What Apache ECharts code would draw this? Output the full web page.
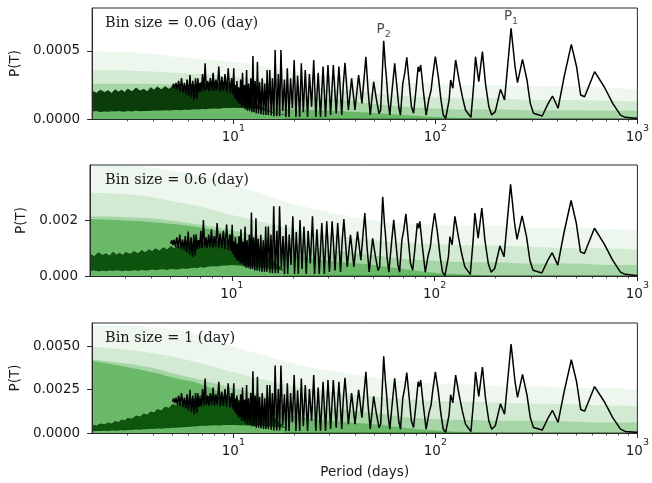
<!DOCTYPE html>
<html><head><meta charset="utf-8">
<script src="https://cdn.jsdelivr.net/npm/echarts@6/dist/echarts.min.js"></script>
<style>html,body{margin:0;padding:0;background:#fff}#c{width:652px;height:483px}</style>
</head><body><div id="c"></div>
<script>
// ---- text & ticks ----
const binLabels = ['Bin size = 0.06 (day)', 'Bin size = 0.6 (day)', 'Bin size = 1 (day)'];
const yAxisName = 'P(T)';
const xAxisName = 'Period (days)';
const xTickValues = [10, 100, 1000];
const xMinorTickValues = [3,4,5,6,7,8,9,20,30,40,50,60,70,80,90,200,300,400,500,600,700,800,900];
const yTicks1 = [0, 0.0005];
const yTicks2 = [0, 0.002];
const yTicks3 = [0, 0.0025, 0.005];
const yMax = [0.000816, 0.004, 0.00635];
// value units of the arrays below (panel 1: 1e-6, panels 2 & 3: 1e-5)
const units = [1e-6, 1e-5, 1e-5];

// ---- observed periodogram (black line), periods in days ----
const linePeriods = [
 5.00,5.06,5.13,5.20,5.28,5.36,5.45,5.54,5.63,5.72,
 5.81,5.90,6.00,6.10,6.20,6.30,6.40,6.50,
 6.60,6.67,6.76,6.85,6.94,7.04,7.14,7.25,7.35,7.46,
 7.57,7.69,7.81,7.94,8.06,8.20,8.33,8.47,8.62,8.77,
 8.93,9.09,9.26,9.43,9.62,9.80,9.92,10.05,10.13,10.2,
 10.31,10.42,10.53,10.64,10.75,10.87,10.99,11.1,11.24,11.36,
 11.49,11.63,11.76,11.9,12.05,12.2,12.35,12.5,12.66,12.82,
 12.99,13.16,13.33,13.5,13.7,13.9,14.1,14.3,14.5,14.7,
 14.9,15.15,15.4,15.6,15.87,16.1,16.4,16.7,16.95,17.2,
 17.55,17.9,18.2,18.5,18.87,19.2,19.6,20.0,20.4,20.8,
 21.3,21.7,22.2,22.7,23.3,23.8,24.4,25.0,25.6,26.3,
 27.0,27.8,28.6,29.4,30.3,31.25,32.3,33.3,34.4,35.0,
 35.7,37.1,38.5,40.0,41.7,43.3,45.3,46.5,47.6,49.5,
 51.0,52.6,53.6,55.5,56.6,57.2,58.3,59.5,61.3,62.9,
 64.5,66.0,67.2,69.0,70.5,72.2,74.5,76.1,78.0,80.0,
 82.2,83.3,84.6,87.1,90.0,93.0,95.3,96.9,100,103.4,
 106.6,109.4,112.5,117,119,122,126,131,136,141,
 150,155,158,164,171,177,184,190,198,210,
 220,237,248,255,270,284,295,306,338,362,
 380,405,434,471,500,524,548,614,685,755,
 825,870,985,1000];
const linePower1 = [ // x1e-6
 235,260,225,265,215,280,205,300,195,265,
 185,290,170,323,155,280,140,300,
 150,300,195,260,200,330,205,409,210,280,
 205,300,210,340,205,290,210,385,200,310,
 205,330,195,373,190,300,180,373,160,250,
 140,280,120,230,110,290,90,340,90,250,
 70,360,60,260,60,300,50,463,50,280,
 40,421,40,270,35,300,30,260,30,360,
 30,360,25,300,20,507,20,330,20,507,
 60,290,15,373,15,300,80,434,15,320,
 15,409,50,360,15,330,90,434,15,340,
 15,385,15,397,30,397,40,385,30,250,
 414,66,299,66,323,115,458,200,30,274,
 150,40,66,575,384,311,140,29,237,409,
 237,80,29,262,336,453,237,90,42,200,
 384,348,397,213,29,150,213,311,458,311,
 140,29,5,140,287,226,434,287,164,66,
 12,262,458,274,495,262,90,29,54,218,
 140,667,384,267,439,287,115,42,22,115,
 169,79,311,549,384,176,164,348,237,115,
 29,12,5,5];
const linePower2 = [ // x1e-5
 116,129,111,131,106,139,101,149,97,131,
 92,144,84,160,77,139,69,149,
 74,149,97,129,99,163,101,202,104,139,
 101,149,104,168,101,144,104,191,99,153,
 101,163,97,185,94,149,89,185,79,124,
 69,139,59,114,54,144,45,168,45,124,
 35,178,30,129,30,149,25,229,25,139,
 20,208,20,134,17,149,15,129,15,178,
 15,178,12,149,10,251,10,163,10,251,
 30,144,7,185,7,149,40,215,7,158,
 7,202,25,178,7,163,45,215,7,168,
 7,191,7,197,15,197,20,191,15,124,
 205,33,148,33,160,57,227,99,15,136,
 74,20,33,285,190,154,69,14,117,202,
 117,40,14,130,166,224,117,45,21,99,
 190,172,197,105,14,74,105,154,227,154,
 69,14,2,69,142,112,215,142,81,33,
 6,130,227,136,245,130,45,14,27,108,
 69,330,190,132,217,142,57,21,11,57,
 84,39,154,272,190,87,81,172,117,57,
 14,6,2,2];
const linePower3 = [ // x1e-5
 181,200,173,204,166,216,158,231,150,204,
 142,223,131,249,119,216,108,231,
 116,231,150,200,154,254,158,315,162,216,
 158,231,162,262,158,223,162,296,154,239,
 158,254,150,287,146,231,139,287,123,193,
 108,216,92,177,85,223,69,262,69,193,
 54,277,46,200,46,231,39,357,39,216,
 31,324,31,208,27,231,23,200,23,277,
 23,277,19,231,15,390,15,254,15,390,
 46,223,12,287,12,231,62,334,12,246,
 12,315,39,277,12,254,69,334,12,262,
 12,296,12,306,23,306,31,296,23,193,
 319,51,230,51,249,89,353,154,23,211,
 116,31,51,443,296,239,108,22,182,315,
 182,62,22,202,259,349,182,69,32,154,
 296,268,306,164,22,116,164,239,353,239,
 108,22,4,108,221,174,334,221,126,51,
 9,202,353,211,381,202,69,22,42,168,
 108,514,296,206,338,221,89,32,17,89,
 130,61,239,423,296,136,126,268,182,89,
 22,9,4,4];

// ---- dense short-period part of the black line: envelope (bottom / top) ----
const bandPeriods = [
 2.0,2.1,2.2,2.3,2.4,2.5,2.6,2.7,2.8,2.9,
 3.0,3.15,3.3,3.45,3.6,3.75,3.9,4.05,4.2,4.4,
 4.6,4.8,5.0,5.2,5.4,5.6,5.8,6.0,6.25,6.5,
 6.75,7.0,7.3,7.6,8.0,8.5,9.0,9.5,10,11,
 12,13,14.5,16,18];
const bandTop1 = [
 205,190,212,195,208,188,215,198,212,195,
 220,200,228,205,218,200,230,212,235,215,
 238,218,240,222,245,228,248,235,258,245,
 262,270,255,268,275,262,270,265,255,215,
 165,110,65,40,30];
const bandBot1 = [
 55,58,52,56,54,57,55,58,56,54,
 58,56,60,57,59,58,60,62,60,62,
 64,62,65,66,64,67,68,66,70,72,
 70,74,72,75,78,76,80,80,82,80,
 78,75,60,40,30];
const bandTop2 = [
 78,70,84,74,80,72,86,76,82,75,
 85,78,88,80,92,84,95,88,98,90,
 102,94,106,98,110,102,114,106,118,110,
 124,130,120,128,134,124,130,126,125,112,
 100,90,75,55,20];
const bandBot2 = [
 18,20,16,19,17,20,18,21,19,17,
 20,18,21,19,22,20,21,23,21,23,
 24,22,25,24,23,26,27,25,28,30,
 28,32,30,33,35,34,38,38,40,38,
 35,32,28,24,20];
const bandTop3 = [
 45,40,52,48,58,52,66,60,75,70,
 85,80,98,92,110,104,122,115,135,128,
 150,142,165,158,175,168,185,178,198,192,
 210,218,205,212,215,205,210,205,205,180,
 160,140,115,85,30];
const bandBot3 = [
 10,12,11,13,12,14,13,15,16,15,
 18,17,20,19,22,21,24,23,26,25,
 28,27,30,31,32,33,35,34,37,38,
 40,42,41,43,45,44,46,46,46,45,
 44,42,38,34,30];

// ---- simulated periodograms (green cloud): upper reach of 4 density levels ----
const greenPeriods = [2,3,4,5,7,10,15,20,30,50,70,100,150,200,300,500,700,1000];
const green1 = [
 [500,490,480,460,440,420,380,350,320,290,270,260,250,250,240,240,230,220],
 [360,355,350,340,330,310,280,250,220,190,170,160,150,150,140,140,135,130],
 [260,260,258,255,250,240,210,180,150,110,90,78,70,70,65,65,60,60],
 [72,72,72,74,78,90,80,70,60,45,30,15,5,0,0,0,0,0]];
const green2 = [
 [400,400,390,380,360,330,290,260,230,200,190,185,180,180,175,175,170,165],
 [300,295,285,270,250,220,190,170,150,130,120,115,110,110,105,100,100,95],
 [215,212,208,200,185,165,135,115,95,75,62,55,50,50,45,45,40,40],
 [205,200,195,188,175,150,100,75,55,40,25,12,5,0,0,0,0,0]];
const green3 = [
 [620,620,610,600,560,500,440,400,360,320,300,285,280,270,270,260,260,250],
 [500,480,460,440,400,350,300,270,240,210,195,185,180,175,170,165,160,155],
 [425,400,375,345,305,260,210,175,145,115,92,80,75,70,70,65,60,60],
 [415,380,350,320,280,200,140,100,70,50,30,15,5,0,0,0,0,0]];
const greenAlphas = [0.08, 0.13, 0.24, 0.45];

// ---- peak annotations (panel 1) ----
const peakNames = ['1', '2'];
const peakPeriods = [237, 55.5];
const peakPowers = [667, 575]; // x1e-6

[linePower1, linePower2, linePower3].forEach((a, i) => { if (a.length !== linePeriods.length) throw new Error('line ' + i + ' len ' + a.length + ' vs ' + linePeriods.length); });
[bandTop1, bandBot1, bandTop2, bandBot2, bandTop3, bandBot3].forEach((a, i) => { if (a.length !== bandPeriods.length) throw new Error('band ' + i + ' len ' + a.length); });

// colour of the cloud where all four density levels overlap
const fullCloud = (() => {
  let w = 1; greenAlphas.forEach(a => { w *= (1 - a); });
  const c = v => Math.round(255 * w + v * (1 - w));
  return 'rgb(' + c(30) + ',' + c(150) + ',' + c(30) + ')';
})();

const panels = [
 {top: 8, height: 111, yTicks: yTicks1, dec: 4, line: linePower1, bTop: bandTop1, bBot: bandBot1, greens: green1, bandColor: '#0b3d0b', edge: '#041f04'},
 {top: 165, height: 111, yTicks: yTicks2, dec: 3, line: linePower2, bTop: bandTop2, bBot: bandBot2, greens: green2, bandColor: '#0e540e', edge: '#0a3f0a'},
 {top: 323, height: 110, yTicks: yTicks3, dec: 4, line: linePower3, bTop: bandTop3, bBot: bandBot3, greens: green3, bandColor: '#0e560e', edge: '#0a400a'}
];

const txt = '#1a1a1a', axc = '#2a2a2a';
const FS = 13.5;
const grid = [], xAxis = [], yAxis = [], series = [], graphic = [];
panels.forEach((p, i) => {
  const u = units[i];
  grid.push({left: 90, right: 13, top: p.top, height: p.height, show: true, borderColor: axc, borderWidth: 1, backgroundColor: 'transparent'});
  xAxis.push({
    type: 'log', logBase: 10, gridIndex: i, min: 2, max: 1000, position: 'bottom', z: 10,
    axisLine: {show: true, lineStyle: {color: axc, width: 1}},
    axisTick: {show: true, length: 5, customValues: xTickValues, lineStyle: {color: axc, width: 1}},
    axisLabel: {show: true, customValues: xTickValues, margin: 5,
      formatter: v => '{b|10}{s|' + Math.round(Math.log10(v)) + '}',
      rich: {b: {fontSize: FS, fontFamily: 'DejaVu Sans', color: txt, lineHeight: 20, verticalAlign: 'bottom'},
             s: {fontSize: 9.5, fontFamily: 'DejaVu Sans', color: txt, lineHeight: 20, verticalAlign: 'top'}}},
    splitLine: {show: false}, minorTick: {show: false},
    name: i === 2 ? xAxisName : '', nameLocation: 'middle', nameGap: 32,
    nameTextStyle: {fontSize: FS, fontFamily: 'DejaVu Sans', color: txt}
  });
  yAxis.push({
    type: 'value', gridIndex: i, min: 0, max: yMax[i], z: 10,
    axisLine: {show: true, lineStyle: {color: axc, width: 1}},
    axisTick: {show: true, length: 5, customValues: p.yTicks, lineStyle: {color: axc}},
    axisLabel: {customValues: p.yTicks, margin: 12, formatter: v => v.toFixed(p.dec), fontSize: FS, fontFamily: 'DejaVu Sans', color: txt},
    splitLine: {show: false},
    name: yAxisName, nameLocation: 'middle', nameGap: 62,
    nameTextStyle: {fontSize: FS, fontFamily: 'DejaVu Sans', color: txt}
  });
  p.greens.forEach((g, k) => series.push({
    type: 'line', xAxisIndex: i, yAxisIndex: i, silent: true, symbol: 'none', z: 1, smooth: 0.4,
    data: greenPeriods.map((x, j) => [x, g[j] * u]),
    lineStyle: {width: 0, opacity: 0},
    areaStyle: {color: 'rgba(30,150,30,' + greenAlphas[k] + ')', opacity: 1}
  }));
  // dense part: filled from 0 up to the top envelope ...
  series.push({
    type: 'line', xAxisIndex: i, yAxisIndex: i, silent: true, symbol: 'none', z: 2,
    data: bandPeriods.map((x, j) => [x, p.bTop[j] * u]),
    lineStyle: {width: 0.8, color: p.edge},
    areaStyle: {color: p.bandColor, opacity: 1}
  });
  // ... and the cloud shows again below the bottom envelope
  series.push({
    type: 'line', xAxisIndex: i, yAxisIndex: i, silent: true, symbol: 'none', z: 3,
    data: bandPeriods.map((x, j) => [x, p.bBot[j] * u]),
    lineStyle: {width: 0, opacity: 0},
    areaStyle: {color: fullCloud, opacity: 1}
  });
  series.push({
    type: 'line', xAxisIndex: i, yAxisIndex: i, silent: true, symbol: 'none', z: 4,
    data: linePeriods.map((x, j) => [x, p.line[j] * u]),
    lineStyle: {width: 1.5, color: '#000'}
  });
  graphic.push({type: 'text', x: 105, y: p.top + 15, z: 20,
    style: {text: binLabels[i], fontSize: 14.5, fontFamily: 'DejaVu Serif', fill: txt, verticalAlign: 'middle'}});
});
// minor ticks
panels.forEach((p, i) => {
  xAxis.push({
    type: 'log', logBase: 10, gridIndex: i, min: 2, max: 1000, position: 'bottom', z: 10,
    axisLine: {show: false},
    axisTick: {show: true, length: 2.5, customValues: xMinorTickValues, lineStyle: {color: axc, width: 0.8}},
    axisLabel: {show: false}, splitLine: {show: false}
  });
});
series.push({
  type: 'scatter', xAxisIndex: 0, yAxisIndex: 0, z: 5, symbolSize: 1,
  itemStyle: {color: 'transparent'},
  data: peakPeriods.map((x, j) => [x, peakPowers[j] * units[0]]),
  label: {show: true, position: 'top', distance: 1,
    formatter: q => '{a|P}{b|' + peakNames[q.dataIndex] + '}',
    rich: {a: {fontSize: FS, fontFamily: 'DejaVu Sans', color: txt, lineHeight: 17, verticalAlign: 'top'},
           b: {fontSize: 9.5, fontFamily: 'DejaVu Sans', color: txt, lineHeight: 17, verticalAlign: 'bottom'}}}
});

const chart = echarts.init(document.getElementById('c'));
chart.setOption({animation: false, backgroundColor: '#fff', grid, xAxis, yAxis, series, graphic});
</script></body></html>
